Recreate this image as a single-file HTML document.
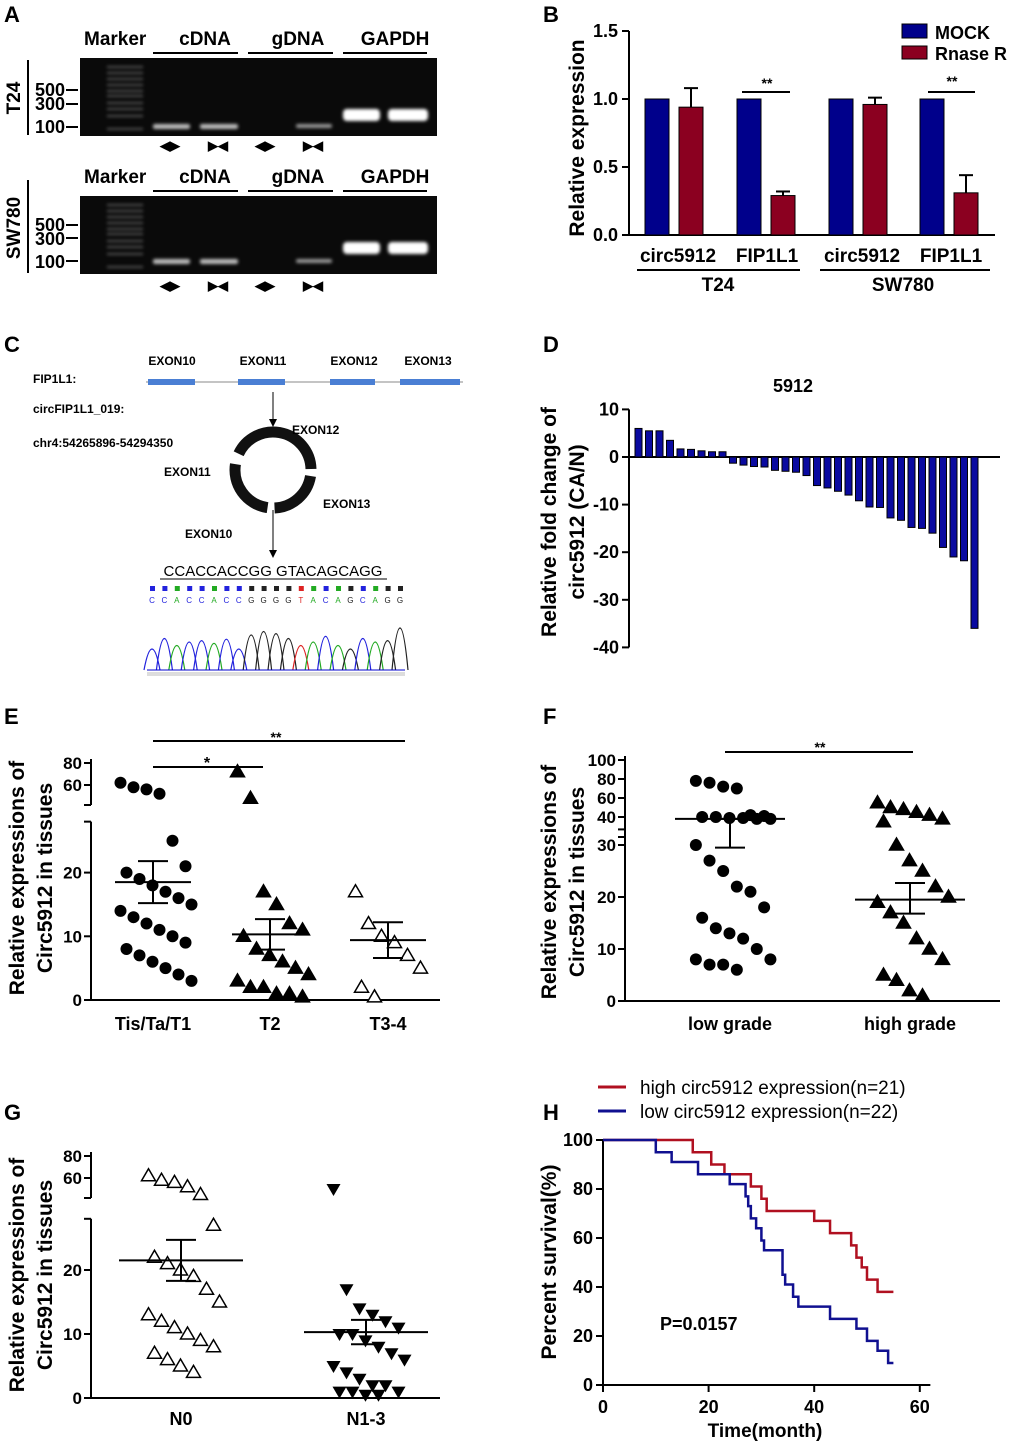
<!DOCTYPE html>
<html><head><meta charset="utf-8"><style>
body{margin:0;background:#fff}
svg text{font-family:"Liberation Sans",sans-serif;font-weight:bold;fill:#000}
</style></head><body>
<svg id="fig" width="1020" height="1446" viewBox="0 0 1020 1446" xmlns="http://www.w3.org/2000/svg">
<defs><filter id="glow" x="-20%" y="-50%" width="140%" height="200%"><feGaussianBlur stdDeviation="1.5"/></filter></defs>
<rect width="1020" height="1446" fill="#fff"/>
<g font-size="22">
<text x="4" y="22">A</text><text x="543" y="22">B</text><text x="4" y="352">C</text><text x="543" y="352">D</text>
<text x="4" y="724">E</text><text x="543" y="724">F</text><text x="4" y="1120">G</text><text x="543" y="1120">H</text></g>

<!-- Panel A -->
<g id="panelA" font-size="19">
<text x="84" y="45">Marker</text><text x="205" y="45" text-anchor="middle">cDNA</text><text x="298" y="45" text-anchor="middle">gDNA</text><text x="395" y="45" text-anchor="middle">GAPDH</text>
<g stroke="#000" stroke-width="2"><line x1="153" y1="53" x2="238" y2="53"/><line x1="248" y1="53" x2="333" y2="53"/><line x1="343" y1="53" x2="427" y2="53"/>
<line x1="153" y1="191" x2="238" y2="191"/><line x1="248" y1="191" x2="333" y2="191"/><line x1="343" y1="191" x2="427" y2="191"/>
<line x1="28" y1="60" x2="28" y2="135"/><line x1="28" y1="180" x2="28" y2="273"/>
<line x1="66" y1="90" x2="78" y2="90"/><line x1="66" y1="104" x2="78" y2="104"/><line x1="66" y1="127" x2="78" y2="127"/>
<line x1="66" y1="225" x2="78" y2="225"/><line x1="66" y1="238" x2="78" y2="238"/><line x1="66" y1="261" x2="78" y2="261"/></g>
<text x="84" y="183">Marker</text><text x="205" y="183" text-anchor="middle">cDNA</text><text x="298" y="183" text-anchor="middle">gDNA</text><text x="395" y="183" text-anchor="middle">GAPDH</text>
<text transform="translate(20,98) rotate(-90)" text-anchor="middle">T24</text>
<text transform="translate(20,228) rotate(-90)" text-anchor="middle">SW780</text>
<g text-anchor="end" font-size="18"><text x="65" y="96">500</text><text x="65" y="110">300</text><text x="65" y="133">100</text>
<text x="65" y="231">500</text><text x="65" y="245">300</text><text x="65" y="268">100</text></g>
<rect x="80" y="58" width="357" height="78" fill="#0a0a0a"/><rect x="80" y="196" width="357" height="78" fill="#0a0a0a"/>
<g id="ladder" filter="url(#glow)"></g>
<g fill="#bbb" filter="url(#glow)"><rect x="153" y="124" width="37" height="5" rx="2"/><rect x="200" y="124" width="38" height="5" rx="2"/><rect x="296" y="124" width="36" height="4" rx="2" fill="#999"/>
<rect x="153" y="259" width="37" height="5" rx="2"/><rect x="200" y="259" width="38" height="5" rx="2"/><rect x="296" y="259" width="36" height="4" rx="2" fill="#999"/></g>
<g fill="#fff" filter="url(#glow)"><rect x="343" y="109" width="37" height="12" rx="4"/><rect x="388" y="109" width="40" height="12" rx="4"/>
<rect x="343" y="242" width="37" height="12" rx="4"/><rect x="388" y="242" width="40" height="12" rx="4"/></g>
<g font-size="13"><text x="160" y="150">◀▶</text><text x="208" y="150">▶◀</text><text x="255" y="150">◀▶</text><text x="303" y="150">▶◀</text>
<text x="160" y="290">◀▶</text><text x="208" y="290">▶◀</text><text x="255" y="290">◀▶</text><text x="303" y="290">▶◀</text></g>
</g>

<!-- Panel B -->
<g id="panelB">
<rect x="902" y="24" width="25" height="14" fill="#00008b" stroke="#000"/>
<text x="935" y="39" font-size="18">MOCK</text>
<rect x="902" y="46" width="25" height="13" fill="#8b0020" stroke="#000"/>
<text x="935" y="60" font-size="18">Rnase R</text>
<text transform="translate(584,138) rotate(-90)" text-anchor="middle" font-size="21">Relative expression</text>
<g font-size="19" text-anchor="middle"><text x="678" y="262">circ5912</text><text x="767" y="262">FIP1L1</text><text x="862" y="262">circ5912</text><text x="951" y="262">FIP1L1</text>
<text x="718" y="291">T24</text><text x="903" y="291">SW780</text><text x="767" y="88" font-size="14">**</text><text x="952" y="86" font-size="14">**</text></g>
<g stroke="#000" stroke-width="2"><line x1="637" y1="270" x2="800" y2="270"/><line x1="820" y1="270" x2="990" y2="270"/>
<line x1="742" y1="92" x2="790" y2="92"/><line x1="928" y1="92" x2="975" y2="92"/></g>
<g id="bAxis"></g><g id="bBars"></g>
</g>

<!-- Panel C -->
<g id="panelC" font-size="12">
<text x="33" y="383">FIP1L1:</text><text x="33" y="413">circFIP1L1_019:</text><text x="33" y="447">chr4:54265896-54294350</text>
<line x1="146" y1="382" x2="463" y2="382" stroke="#888"/>
<g fill="#4a7fd4"><rect x="148" y="379" width="47" height="6"/><rect x="238" y="379" width="47" height="6"/><rect x="330" y="379" width="45" height="6"/><rect x="400" y="379" width="60" height="6"/></g>
<text x="172" y="365" text-anchor="middle">EXON10</text><text x="263" y="365" text-anchor="middle">EXON11</text><text x="354" y="365" text-anchor="middle">EXON12</text><text x="428" y="365" text-anchor="middle">EXON13</text>
<line x1="273" y1="392" x2="273" y2="424" stroke="#000"/><path d="M269,419 L273,427 L277,419" fill="#000"/>
<circle cx="273" cy="470" r="38" fill="none" stroke="#111" stroke-width="11" stroke-dasharray="52 7 52 7 60 11" transform="rotate(-80 273 470)"/>
<text x="292" y="434">EXON12</text><text x="164" y="476">EXON11</text><text x="323" y="508">EXON13</text><text x="185" y="538">EXON10</text>
<line x1="273" y1="510" x2="273" y2="555" stroke="#000"/><path d="M269,550 L273,558 L277,550" fill="#000"/>
<text x="273" y="576" text-anchor="middle" font-size="15" style="font-weight:normal">CCACCACCGG GTACAGCAGG</text>
<line x1="160" y1="579" x2="387" y2="579" stroke="#000"/>
<g id="seq"></g>
<g id="chrom"></g>
<line x1="147" y1="670" x2="405" y2="670" stroke="#00c" stroke-width="1"/>
<rect x="147" y="672" width="258" height="4" fill="#ddd"/>
</g>

<!-- Panel D -->
<g id="panelD">
<text x="793" y="392" text-anchor="middle" font-size="18">5912</text>
<text transform="translate(556,522) rotate(-90)" text-anchor="middle" font-size="21">Relative fold change of</text>
<text transform="translate(584,522) rotate(-90)" text-anchor="middle" font-size="21">circ5912 (CA/N)</text>
<g id="dAxis"></g><g id="dBars"></g>
</g>

<!-- Panel E -->
<g id="panelE">
<text transform="translate(24,878) rotate(-90)" text-anchor="middle" font-size="21">Relative expressions of</text>
<text transform="translate(52,878) rotate(-90)" text-anchor="middle" font-size="21">Circ5912 in tissues</text>
<g font-size="18" text-anchor="middle"><text x="153" y="1030">Tis/Ta/T1</text><text x="270" y="1030">T2</text><text x="388" y="1030">T3-4</text>
<text x="207" y="768" font-size="16">*</text><text x="276" y="742" font-size="14">**</text></g>
<g stroke="#000" stroke-width="2"><line x1="153" y1="767" x2="263" y2="767"/><line x1="153" y1="741" x2="405" y2="741"/></g>
<g id="eAxis"></g><g id="ePts"></g>
</g>

<!-- Panel F -->
<g id="panelF">
<text transform="translate(556,882) rotate(-90)" text-anchor="middle" font-size="21">Relative expressions of</text>
<text transform="translate(584,882) rotate(-90)" text-anchor="middle" font-size="21">Circ5912 in tissues</text>
<g font-size="18" text-anchor="middle"><text x="730" y="1030">low grade</text><text x="910" y="1030">high grade</text><text x="820" y="752" font-size="14">**</text></g>
<line x1="725" y1="752" x2="913" y2="752" stroke="#000" stroke-width="2"/>
<g id="fAxis"></g><g id="fPts"></g>
</g>

<!-- Panel G -->
<g id="panelG">
<text transform="translate(24,1275) rotate(-90)" text-anchor="middle" font-size="21">Relative expressions of</text>
<text transform="translate(52,1275) rotate(-90)" text-anchor="middle" font-size="21">Circ5912 in tissues</text>
<g font-size="18" text-anchor="middle"><text x="181" y="1425">N0</text><text x="366" y="1425">N1-3</text></g>
<g id="gAxis"></g><g id="gPts"></g>
</g>

<!-- Panel H -->
<g id="panelH">
<line x1="598" y1="1087" x2="626" y2="1087" stroke="#b01020" stroke-width="3"/>
<text x="640" y="1094" font-size="19" style="font-weight:normal">high circ5912 expression(n=21)</text>
<line x1="598" y1="1111" x2="626" y2="1111" stroke="#101090" stroke-width="3"/>
<text x="640" y="1118" font-size="19" style="font-weight:normal">low circ5912 expression(n=22)</text>
<text transform="translate(556,1262) rotate(-90)" text-anchor="middle" font-size="21">Percent survival(%)</text>
<text x="765" y="1437" text-anchor="middle" font-size="19">Time(month)</text>
<text x="660" y="1330" font-size="18">P=0.0157</text>
<g id="hAxis"></g><g id="hLines"></g>
</g>
</svg>
<script>
const NS="http://www.w3.org/2000/svg";
function mk(parent,tag,attrs,txt){const e=document.createElementNS(NS,tag);for(const k in attrs)e.setAttribute(k,attrs[k]);if(txt!==undefined)e.textContent=txt;document.getElementById(parent).appendChild(e);return e;}

// ---- Panel B data
const bCategories=["circ5912-T24","FIP1L1-T24","circ5912-SW780","FIP1L1-SW780"];
const bMock=[1,1,1,1];
const bRnase=[0.94,0.29,0.96,0.31];
const bRnaseErr=[0.14,0.03,0.05,0.13];
const bTicks=[0,0.5,1.0,1.5];
// ---- Panel D data
const dValues=[6,5.5,5.5,3.5,1.7,1.6,1.3,1.1,1.1,-1.3,-1.7,-2,-2.1,-2.8,-3,-3.2,-3.9,-6,-6.5,-7.2,-8,-9.2,-10.5,-10.6,-12.8,-13.3,-14.8,-15,-16,-19,-21,-21.8,-36];
const dTicks=[10,0,-10,-20,-30,-40];
// ---- Panel E data
const eGroups=["Tis/Ta/T1","T2","T3-4"];
const eG1=[62,58,56,52,25,21,20,19,18,17,16,15,14,13,12,11,10,9,8,7,6,5,4,3];
const eG2=[72,48,17,15,12,11,10,8,7,6,5,4,3,2,2,1,1,0.5];
const eG3=[17,12,10,9,7,5,2,0.5];
const eMean=[18.5,10.3,9.4];
const eSem=[3.3,2.4,2.8];
// ---- Panel F data
const fLow=[78,76,72,70,42,41,40,40,39,39,38,38,30,27,25,22,21,18,16,14,13,12,10,8,8,7,7,6];
const fHigh=[55,50,48,45,42,38,35,30,27,25,22,20,19,17,15,12,10,8,5,4,2,1];
const fMean=[38,19.5];
const fSemLow=[29.5];
const fSemHigh=[22.7,16.8];
// ---- Panel G data
const gN0=[62,58,56,52,45,27,22,21,20,19,17,15,13,12,11,10,9,8,7,6,5,4];
const gN13=[50,17,14,13,12,11,10,10,9,8,7,6,5,4,3,2,2,1,1,1,0.5,0.5];
const gMean=[21.5,10.3];
const gSem=[3.2,1.9];
// ---- Panel H data
const hHighT=[0,17,20.5,23,28,30,31,40,43,47,48,49,50,52,55];
const hHighS=[100,95,90,86,81,76,71,67,62,57,52,48,43,38,38];
const hLowT=[0,10,13,18,24,27,27.5,28,29,30,30.5,34,34.5,36,37,43,48,50,52,54,55];
const hLowS=[100,95,91,86,82,77,73,68,64,59,55,45,41,36,32,27,23,18,14,9,9];
const hXTicks=[0,20,40,60];
const hYTicks=[0,20,40,60,80,100];

// ladder
for(let i=0;i<2;i++){const y0=i?196:58;[8,14,20,26,32,37,44,50,57,70].forEach(o=>{mk('ladder','rect',{x:107,y:y0+o,width:36,height:2,fill:'#555'});});}

// Panel B
const bY=v=>235-v*136;
const bX=[645,737,829,920];
mk('bAxis','line',{x1:629,y1:bY(1.5),x2:629,y2:235,stroke:'#000','stroke-width':2});
mk('bAxis','line',{x1:629,y1:235,x2:995,y2:235,stroke:'#000','stroke-width':2});
bTicks.forEach(t=>{mk('bAxis','line',{x1:622,y1:bY(t),x2:629,y2:bY(t),stroke:'#000','stroke-width':2});mk('bAxis','text',{x:618,y:bY(t)+6,'text-anchor':'end','font-size':18},t.toFixed(1));});
bCategories.forEach((c,i)=>{
 const a=mk('bBars','rect',{x:bX[i],y:bY(bMock[i]),width:24,height:235-bY(bMock[i]),fill:'#00008b',stroke:'#000'});
 
 
 const r=mk('bBars','rect',{x:bX[i]+34,y:bY(bRnase[i]),width:24,height:235-bY(bRnase[i]),fill:'#8b0020',stroke:'#000'});
 
 
 const ey=bY(bRnase[i]+bRnaseErr[i]);
 mk('bBars','line',{x1:bX[i]+46,y1:bY(bRnase[i]),x2:bX[i]+46,y2:ey,stroke:'#000','stroke-width':2});
 mk('bBars','line',{x1:bX[i]+39,y1:ey,x2:bX[i]+53,y2:ey,stroke:'#000','stroke-width':2});
});

// sequence squares / chromatogram
const bases="CCACCACCGGGGTACAGCAGG";const bc={A:'#2a2',C:'#22d',G:'#222',T:'#d22'};
for(let i=0;i<bases.length;i++){const x=150+i*12.4;mk('seq','rect',{x:x,y:586,width:5,height:5,fill:bc[bases[i]]});mk('seq','text',{x:x+2,y:603,'font-size':8,style:'fill:'+bc[bases[i]]+';font-weight:normal','text-anchor':'middle'},bases[i]);}
const ph=[30,45,35,40,42,38,44,30,50,55,52,45,35,40,48,35,30,45,40,42,60];
for(let i=0;i<bases.length;i++){const x=152+i*12.4;mk('chrom','path',{d:`M${x-8},670 Q${x},${670-ph[i]*1.4} ${x+8},670`,fill:'none',stroke:bc[bases[i]],'stroke-width':1.2});}

// Panel D
const dY=v=>457-v*4.76;
mk('dAxis','line',{x1:629,y1:dY(10),x2:629,y2:dY(-40),stroke:'#000','stroke-width':2});
mk('dAxis','line',{x1:629,y1:457,x2:1000,y2:457,stroke:'#000','stroke-width':2});
dTicks.forEach(t=>{mk('dAxis','line',{x1:622,y1:dY(t),x2:629,y2:dY(t),stroke:'#000','stroke-width':2});mk('dAxis','text',{x:619,y:dY(t)+6,'text-anchor':'end','font-size':18},t);});
dValues.forEach((v,i)=>{const x=635+i*10.5;const y=Math.min(dY(v),457);const b=mk('dBars','rect',{x:x,y:y,width:7,height:Math.abs(dY(v)-457),fill:'#0a0aa0',stroke:'#000','stroke-width':1});
 
 });

// broken axis helper
function brokenAxis(g,x,yZero,ppu,lowTop,upMap,upTicks,lowTicks,xEnd,lowMax){
 const ylow=v=>yZero-v*ppu;
 mk(g,'line',{x1:x,y1:ylow(lowMax),x2:x,y2:yZero,stroke:'#000','stroke-width':2});
 mk(g,'line',{x1:x,y1:upMap(upTicks[upTicks.length-1])-4,x2:x,y2:upMap(upTicks[0])+20,stroke:'#000','stroke-width':2});
 mk(g,'line',{x1:x-7,y1:upMap(upTicks[0])+20,x2:x,y2:upMap(upTicks[0])+20,stroke:'#000','stroke-width':2});
 mk(g,'line',{x1:x-7,y1:ylow(lowMax),x2:x,y2:ylow(lowMax),stroke:'#000','stroke-width':2});
 mk(g,'line',{x1:x,y1:yZero,x2:xEnd,y2:yZero,stroke:'#000','stroke-width':2});
 lowTicks.forEach(t=>{mk(g,'line',{x1:x-7,y1:ylow(t),x2:x,y2:ylow(t),stroke:'#000','stroke-width':2});mk(g,'text',{x:x-9,y:ylow(t)+6,'text-anchor':'end','font-size':17},t);});
 upTicks.forEach(t=>{mk(g,'line',{x1:x-7,y1:upMap(t),x2:x,y2:upMap(t),stroke:'#000','stroke-width':2});mk(g,'text',{x:x-9,y:upMap(t)+6,'text-anchor':'end','font-size':17},t);});
}
function marker(g,shape,cx,cy,fill,name){let e;
 if(shape==='c')e=mk(g,'circle',{cx:cx,cy:cy,r:6,fill:'#000'});
 else if(shape==='t')e=mk(g,'path',{d:`M${cx},${cy-7} L${cx+7},${cy+5} L${cx-7},${cy+5}Z`,fill:fill?'#000':'#fff',stroke:'#000','stroke-width':1.5});
 else e=mk(g,'path',{d:`M${cx},${cy+7} L${cx+7},${cy-5} L${cx-7},${cy-5}Z`,fill:'#000'});
 
 }
function jit(i){const cols=6;const k=i%cols;return (k-(cols-1)/2)*13+((Math.floor(i/cols))%2)*6;}
function meanSem(g,cx,w,ym,yh,yl){mk(g,'line',{x1:cx-w,y1:ym,x2:cx+w,y2:ym,stroke:'#000','stroke-width':2});
 mk(g,'line',{x1:cx-15,y1:yh,x2:cx+15,y2:yh,stroke:'#000','stroke-width':2});mk(g,'line',{x1:cx-15,y1:yl,x2:cx+15,y2:yl,stroke:'#000','stroke-width':2});
 mk(g,'line',{x1:cx,y1:yh,x2:cx,y2:yl,stroke:'#000','stroke-width':2});}

// Panel E
const eLow=v=>1000-v*6.37;const eUp=v=>785-(v-60)*1.1;const eMap=v=>v>30?eUp(v):eLow(v);
brokenAxis('eAxis',91,1000,6.37,28,eUp,[60,80],[0,10,20],440,28);
[[eG1,153,'c',1],[eG2,270,'t',1],[eG3,388,'t',0]].forEach(([arr,cx,s,f],gi)=>arr.forEach((v,i)=>marker('ePts',s,cx+jit(i),eMap(v),f,'point-'+eGroups[gi]+'-'+i)));
[153,270,388].forEach((cx,i)=>meanSem('ePts',cx,38,eLow(eMean[i]),eLow(eMean[i]+eSem[i]),eLow(eMean[i]-eSem[i])));

// Panel F
const fLowY=v=>1001-v*5.2;const fUp=v=>817-(v-40)*0.95;const fMap=v=>v>33?fUp(v):fLowY(v);
brokenAxis('fAxis',625,1001,5.2,30,fUp,[40,60,80,100],[0,10,20,30],1000,33);
fLow.forEach((v,i)=>marker('fPts','c',730+jit(i)*1.05,fMap(v),1,'point-low-grade-'+i));
fHigh.forEach((v,i)=>marker('fPts','t',910+jit(i),fMap(v),1,'point-high-grade-'+i));
meanSem('fPts',730,55,fMap(fMean[0]),fMap(fMean[0]),fLowY(fSemLow[0]));
meanSem('fPts',910,55,fLowY(fMean[1]),fLowY(fSemHigh[0]),fLowY(fSemHigh[1]));

// Panel G
const gLowY=v=>1398-v*6.4;const gUp=v=>1178-(v-60)*1.1;const gMap=v=>v>30?gUp(v):gLowY(v);
brokenAxis('gAxis',91,1398,6.4,28,gUp,[60,80],[0,10,20],440,28);
gN0.forEach((v,i)=>marker('gPts','t',181+jit(i),gMap(v),0,'point-n0-'+i));
gN13.forEach((v,i)=>marker('gPts','v',366+jit(i),gMap(v),1,'point-n1-3-'+i));
[181,366].forEach((cx,i)=>meanSem('gPts',cx,62,gLowY(gMean[i]),gLowY(gMean[i]+gSem[i]),gLowY(gMean[i]-gSem[i])));

// Panel H
const hX=t=>603+t*5.28;const hY=s=>1385-s*2.45;
mk('hAxis','line',{x1:603,y1:hY(100),x2:603,y2:1385,stroke:'#000','stroke-width':2});
mk('hAxis','line',{x1:603,y1:1385,x2:hX(62),y2:1385,stroke:'#000','stroke-width':2});
hXTicks.forEach(t=>{mk('hAxis','line',{x1:hX(t),y1:1385,x2:hX(t),y2:1392,stroke:'#000','stroke-width':2});mk('hAxis','text',{x:hX(t),y:1413,'text-anchor':'middle','font-size':18},t);});
hYTicks.forEach(t=>{mk('hAxis','line',{x1:596,y1:hY(t),x2:603,y2:hY(t),stroke:'#000','stroke-width':2});mk('hAxis','text',{x:593,y:hY(t)+6,'text-anchor':'end','font-size':18},t);});
function step(T,S,col,name){let d=`M${hX(T[0])},${hY(S[0])}`;for(let i=1;i<T.length;i++){d+=` H${hX(T[i])} V${hY(S[i])}`;}
 const p=mk('hLines','path',{d:d,fill:'none',stroke:col,'stroke-width':2.5});
 
 }
step(hHighT,hHighS,'#b01020','survival-high-line');
step(hLowT,hLowS,'#101090','survival-low-line');
</script>
</body></html>
